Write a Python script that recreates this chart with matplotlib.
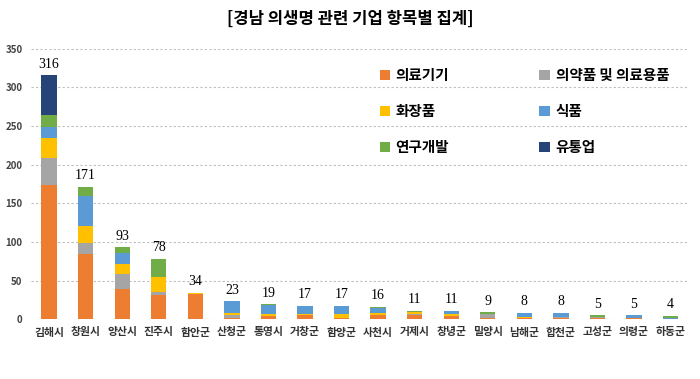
import numpy as np
import matplotlib.pyplot as plt

plt.rcParams['font.family'] = ['Noto Sans CJK KR', 'DejaVu Sans']

regions = ["김해시", "창원시", "양산시", "진주시", "함안군", "산청군", "통영시", "거창군", "함양군",
           "사천시", "거제시", "창녕군", "밀양시", "남해군", "합천군", "고성군", "의령군", "하동군"]

medical_device = [174, 84, 39, 31, 32, 1, 4, 5, 1, 5, 5, 4, 2, 1, 2, 1, 2, 0]
pharma = [35, 15, 19, 4, 0, 4, 0, 0, 0, 0, 1, 0, 5, 0, 1, 2, 0, 0]
cosmetics = [25, 21, 13, 20, 2, 3, 3, 1, 5, 3, 3, 2, 0, 2, 0, 0, 0, 0]
food = [15, 39, 15, 0, 0, 15, 11, 11, 11, 7, 0, 5, 0, 5, 5, 0, 3, 1]
rnd = [15, 12, 7, 23, 0, 0, 1, 0, 0, 1, 2, 0, 2, 0, 0, 2, 0, 3]
distribution = [52, 0, 0, 0, 0, 0, 0, 0, 0, 0, 0, 0, 0, 0, 0, 0, 0, 0]
totals = [316, 171, 93, 78, 34, 23, 19, 17, 17, 16, 11, 11, 9, 8, 8, 5, 5, 4]

series = [
    ("의료기기", medical_device, "#ED7D31"),
    ("의약품 및 의료용품", pharma, "#A5A5A5"),
    ("화장품", cosmetics, "#FFC000"),
    ("식품", food, "#5B9BD5"),
    ("연구개발", rnd, "#70AD47"),
    ("유통업", distribution, "#264478"),
]

fig = plt.figure(figsize=(7, 3.79), dpi=100)
ax = fig.add_axes([0.044, 0.158, 0.940, 0.713])

x = np.arange(len(regions))
bottom = np.zeros(len(regions))
handles = {}
for name, vals, color in series:
    b = ax.bar(x, vals, 0.42, bottom=bottom, color=color, label=name, zorder=3)
    handles[name] = b
    bottom += np.array(vals)

# totals on top of each stack
for xi, t in zip(x, totals):
    ax.text(xi, t + 6, str(t), ha="center", va="bottom",
            family="Liberation Serif", fontsize=10)

ax.set_xlim(-0.5, len(regions) - 0.5)
ax.set_ylim(0, 350)
ax.set_yticks(np.arange(0, 351, 50))
ax.set_xticks(x)
ax.set_xticklabels(regions, fontsize=7.8, fontweight="bold", color="#333333")
ax.tick_params(axis="y", labelsize=7, colors="#444444", length=0, pad=6)
ax.tick_params(axis="x", length=0, pad=6)
for lbl in ax.get_yticklabels():
    lbl.set_fontweight("bold")
ax.grid(axis="y", linestyle=(0, (2, 2)), color="#BFBFBF", linewidth=0.8, zorder=0)
for s in ax.spines.values():
    s.set_visible(False)

# legend rows: 의료기기/의약품, 화장품/식품, 연구개발/유통업
order = ["의료기기", "화장품", "연구개발", "의약품 및 의료용품", "식품", "유통업"]
ax.legend([handles[n] for n in order], order, loc="upper left",
          bbox_to_anchor=(0.51, 0.98), ncol=2, frameon=False,
          prop={"size": 10.5, "weight": "bold"}, labelspacing=1.35,
          columnspacing=6.2, handlelength=0.7, handleheight=0.7, handletextpad=0.4)

fig.suptitle("[경남 의생명 관련 기업 항목별 집계]", y=0.975, fontsize=12, fontweight="bold")

fig.savefig("out.png", dpi=100)
